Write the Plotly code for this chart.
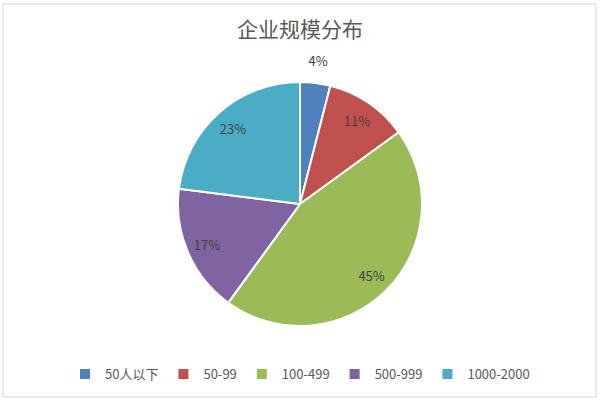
import plotly.graph_objects as go

categories = ["50人以下", "50-99", "100-499", "500-999", "1000-2000"]
shares = [4, 11, 45, 17, 23]
colors = ["#4F81BD", "#C0504D", "#9BBB59", "#8064A2", "#4BACC6"]

W, H = 600, 403
CX, CY, R = 300, 204, 122  # pie centre / radius in px (from the reference)
font_cn = "Noto Sans CJK SC, Noto Sans, sans-serif"
label_font = dict(family=font_cn, size=13, color="#404040")


def dom(radius):
    return dict(
        x=[(CX - radius) / W, (CX + radius) / W],
        y=[(H - CY - radius) / H, (H - CY + radius) / H],
    )


def label_ring(radius, hole, positions):
    # transparent ring, only used to put the data labels where Excel puts them
    return go.Pie(
        labels=categories,
        values=shares,
        sort=False,
        direction="clockwise",
        rotation=0,
        hole=hole,
        marker=dict(colors=["rgba(0,0,0,0)"] * len(shares), line=dict(width=0)),
        texttemplate="%{value}%",
        textposition=positions,
        textfont=label_font,
        insidetextorientation="horizontal",
        domain=dom(radius),
        showlegend=False,
        hoverinfo="skip",
    )


fig = go.Figure()
fig.add_trace(
    go.Pie(
        labels=categories,
        values=shares,
        sort=False,
        direction="clockwise",
        rotation=0,
        marker=dict(colors=colors, line=dict(color="white", width=2)),
        textinfo="none",
        domain=dom(R),
        hoverinfo="label+percent",
    )
)
fig.add_trace(label_ring(R, 0.66, ["none", "inside", "inside", "inside", "inside"]))
fig.add_trace(label_ring(162, 0.78, ["inside", "none", "none", "none", "none"]))

fig.update_layout(
    width=W,
    height=H,
    autosize=False,
    margin=dict(l=0, r=0, t=0, b=0, autoexpand=False),
    paper_bgcolor="white",
    font=dict(family=font_cn, color="#595959"),
    title=dict(
        text="企业规模分布",
        x=0.5,
        xanchor="center",
        y=1 - 30 / H,
        yanchor="middle",
        font=dict(size=21, color="#595959"),
    ),
    legend=dict(
        orientation="h",
        x=0.5,
        xanchor="center",
        y=(H - 374) / H,
        yanchor="middle",
        font=dict(size=13, color="#595959"),
        itemwidth=30,
        tracegroupgap=0,
    ),
    shapes=[
        dict(
            type="rect", xref="paper", yref="paper",
            x0=3 / W, x1=596 / W, y0=(H - 397) / H, y1=(H - 4) / H,
            line=dict(color="#D4D4D4", width=1),
        )
    ],
)

fig.write_html(
    "out.html",
    config={"displayModeBar": False},
    post_script="document.body.style.margin='0';",
)
